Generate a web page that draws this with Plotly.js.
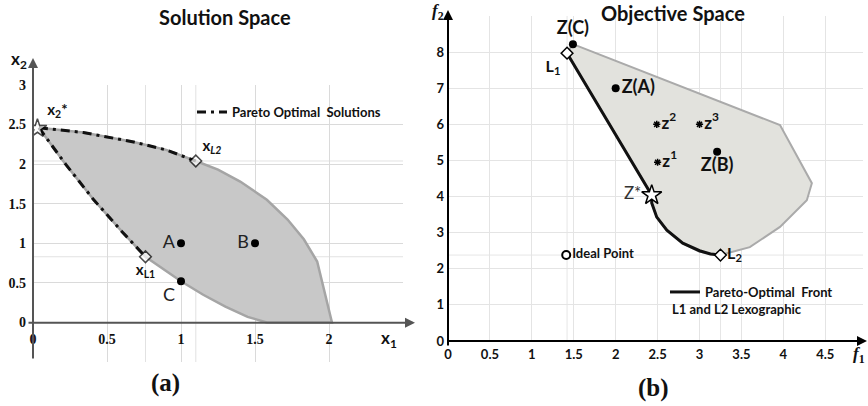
<!DOCTYPE html>
<html><head><meta charset="utf-8">
<script src="https://cdn.plot.ly/plotly-3.0.1.min.js"></script>
<style>html,body{margin:0;padding:0;background:#fff}#chart{width:868px;height:406px}</style>
</head><body><div id="chart"></div>
<script>
// ---------- (a) Solution Space ----------
const solRegionX = [0.04, 0.34, 0.68, 0.90, 1.10, 1.25, 1.40, 1.58, 1.72, 1.83, 1.92, 2.02, 1.58, 1.45, 1.30, 1.15, 1.00, 0.88, 0.76, 0.60, 0.41, 0.22, 0.04];
const solRegionY = [2.46, 2.40, 2.28, 2.18, 2.04, 1.93, 1.78, 1.55, 1.30, 1.05, 0.77, 0.00, 0.00, 0.07, 0.20, 0.35, 0.52, 0.67, 0.83, 1.15, 1.55, 2.00, 2.46];
const paretoUpperX = [0.04, 0.34, 0.68, 0.90, 1.10];
const paretoUpperY = [2.46, 2.40, 2.28, 2.18, 2.04];
const paretoLowerX = [0.04, 0.22, 0.41, 0.60, 0.76];
const paretoLowerY = [2.46, 2.00, 1.55, 1.15, 0.83];
const solPointNames = ['A', 'B', 'C'];
const solPointX = [1.0, 1.5, 1.0];
const solPointY = [1.0, 1.0, 0.52];
const solSpecialNames = ['x<sub>2</sub>*', 'x<sub><i>L2</i></sub>', 'x<sub>L1</sub>'];
const solSpecialX = [0.03, 1.10, 0.76];
const solSpecialY = [2.45, 2.04, 0.83];
const solXTicks = [0, 0.5, 1, 1.5, 2, 2.5];
const solXTickText = ['0', '0.5', '1', '1.5', '2', ' '];
const solYTicks = [-0.5, 0, 0.5, 1, 1.5, 2, 2.5, 3];
const solYTickText = [' ', '0', '0.5', '1', '1.5', '2', '2.5', '3'];

// ---------- (b) Objective Space ----------
const objRegionX = [1.49, 3.96, 4.34, 4.28, 3.96, 3.60, 3.25, 3.00, 2.80, 2.61, 2.49, 2.43, 2.43, 1.42, 1.49];
const objRegionY = [8.22, 5.98, 4.37, 3.90, 3.16, 2.60, 2.38, 2.47, 2.71, 3.07, 3.43, 3.82, 4.04, 7.97, 8.22];
const frontX = [1.42, 2.43, 2.43, 2.49, 2.61, 2.80, 3.00, 3.13, 3.25];
const frontY = [7.97, 4.04, 3.82, 3.43, 3.07, 2.71, 2.50, 2.41, 2.38];
const objPointNames = ['Z(C)', 'Z(A)', 'Z(B)'];
const objPointX = [1.49, 2.00, 3.21];
const objPointY = [8.22, 7.00, 5.24];
const zNames = ['z<sup>1</sup>', 'z<sup>2</sup>', 'z<sup>3</sup>'];
const zX = [2.50, 2.49, 3.00];
const zY = [4.95, 6.00, 6.00];
const lexNames = ['L<sub>1</sub>', 'L<sub>2</sub>'];
const lexX = [1.42, 3.25];
const lexY = [7.97, 2.38];
const zStar = {name: 'Z*', x: 2.43, y: 4.04};
const ideal = {name: 'Ideal Point', x: 1.41, y: 2.38};
const objXTicks = [0, 0.5, 1, 1.5, 2, 2.5, 3, 3.5, 4, 4.5];
const objXTickText = ['0', '0.5', '1', '1.5', '2', '2.5', '3', '3.5', '4', '4.5'];
const objYTicks = [0, 1, 2, 3, 4, 5, 6, 7, 8, 9];
const objYTickText = ['0', '1', '2', '3', '4', '5', '6', '7', '8', ' '];

const SANS = 'Lato, "Open Sans", sans-serif';
const SERIF = '"Liberation Serif", "DejaVu Serif", serif';
const W = 868, H = 406;
const px = v => v / W, py = v => 1 - v / H;

const traces = [
  // (a)
  {x: solRegionX, y: solRegionY, xaxis: 'x', yaxis: 'y', mode: 'lines', fill: 'toself',
   fillcolor: 'rgb(200,200,200)', line: {color: 'rgb(165,165,165)', width: 2.5}, showlegend: false},
  {x: paretoUpperX.concat([null], paretoLowerX), y: paretoUpperY.concat([null], paretoLowerY),
   xaxis: 'x', yaxis: 'y', mode: 'lines', name: 'Pareto Optimal  Solutions', legend: 'legend',
   line: {color: '#111', width: 3, dash: '9px,5px,3px,5px'}},
  {x: solPointX, y: solPointY, text: solPointNames, xaxis: 'x', yaxis: 'y', mode: 'markers+text',
   textposition: ['middle left', 'middle left', 'bottom left'],
   textfont: {family: SANS, size: 18, color: '#222'},
   marker: {color: '#000', size: 8}, showlegend: false},
  {x: solSpecialX, y: solSpecialY, text: solSpecialNames, xaxis: 'x', yaxis: 'y', mode: 'markers+text',
   textposition: ['top right', 'top right', 'bottom center'],
   textfont: {family: SANS, size: 15, color: '#111', weight: 'bold'},
   marker: {symbol: ['star', 'diamond', 'diamond'], color: '#fff', size: [14, 9, 9], line: {color: '#000', width: 1.5}},
   showlegend: false},
  // (b)
  {x: objRegionX, y: objRegionY, xaxis: 'x2', yaxis: 'y2', mode: 'lines', fill: 'toself',
   fillcolor: 'rgb(226,226,221)', line: {color: 'rgb(170,170,170)', width: 2}, showlegend: false},
  {x: frontX, y: frontY, xaxis: 'x2', yaxis: 'y2', mode: 'lines', name: 'Pareto-Optimal  Front', legend: 'legend2',
   line: {color: '#111', width: 3}},
  {x: objPointX, y: objPointY, text: objPointNames, xaxis: 'x2', yaxis: 'y2', mode: 'markers+text',
   textposition: ['top center', 'middle right', 'bottom center'],
   textfont: {family: SANS, size: 18, color: '#111', weight: 'bold'},
   marker: {color: '#000', size: 8}, showlegend: false},
  {x: zX, y: zY, text: zNames, xaxis: 'x2', yaxis: 'y2', mode: 'markers+text',
   textposition: 'middle right', textfont: {family: SANS, size: 17, color: '#111', weight: 'bold'},
   marker: {symbol: 'asterisk-open', color: '#000', size: 6, line: {color: '#000', width: 1.5}}, showlegend: false},
  {x: lexX, y: lexY, text: lexNames, xaxis: 'x2', yaxis: 'y2', mode: 'markers+text',
   textposition: ['bottom left', 'middle right'], textfont: {family: SANS, size: 16, color: '#111', weight: 'bold'},
   marker: {symbol: 'diamond', color: '#fff', size: 9, line: {color: '#000', width: 1.5}}, showlegend: false},
  {x: [zStar.x], y: [zStar.y], text: [zStar.name], xaxis: 'x2', yaxis: 'y2', mode: 'markers+text',
   textposition: 'middle left', textfont: {family: SANS, size: 17, color: '#333'},
   marker: {symbol: 'star', color: '#fff', size: 15, line: {color: '#000', width: 1.5}}, showlegend: false},
  {x: [ideal.x], y: [ideal.y], text: [ideal.name], xaxis: 'x2', yaxis: 'y2', mode: 'markers+text',
   textposition: 'middle right', textfont: {family: SANS, size: 13, color: '#111', weight: 'bold'},
   marker: {symbol: 'circle', color: '#fff', size: 8, line: {color: '#000', width: 2}}, showlegend: false}
];

const gridShapes = [];
[solSpecialX[1], solSpecialX[2]].forEach(v => gridShapes.push({type: 'line', xref: 'x', yref: 'y domain', x0: v, x1: v, y0: 0, y1: 1, line: {color: '#e2e2e2', width: 1}, layer: 'below'}));
[solSpecialY[1], solSpecialY[2]].forEach(v => gridShapes.push({type: 'line', xref: 'x domain', yref: 'y', x0: 0, x1: 1, y0: v, y1: v, line: {color: '#e2e2e2', width: 1}, layer: 'below'}));
lexX.forEach(v => gridShapes.push({type: 'line', xref: 'x2', yref: 'y2 domain', x0: v, x1: v, y0: 0, y1: 1, line: {color: '#e6e6e6', width: 1}, layer: 'below'}));
gridShapes.push({type: 'line', xref: 'x2 domain', yref: 'y2', x0: 0, x1: 1, y0: lexY[1], y1: lexY[1], line: {color: '#e6e6e6', width: 1}, layer: 'below'});

function arrow(x0, y0, x1, y1, color) {
  return {xref: 'paper', yref: 'paper', x: px(x1), y: py(y1), ax: x0 - x1, ay: y0 - y1,
          axref: 'pixel', ayref: 'pixel', text: '', showarrow: true, arrowhead: 2, arrowsize: 1,
          arrowwidth: 2, arrowcolor: color, standoff: 0, startstandoff: 0};
}
function label(text, x, y, font, extra) {
  return Object.assign({xref: 'paper', yref: 'paper', x: px(x), y: py(y), text: text, showarrow: false,
          xanchor: 'center', yanchor: 'middle', font: font}, extra || {});
}

const annotations = [
  arrow(27, 322.7, 415, 322.7, '#555'),
  arrow(33, 360, 33, 58, '#555'),
  arrow(446, 341, 867, 341, '#000'),
  arrow(448, 347, 448, 10, '#000'),
  label('Solution Space', 225, 17, {family: SANS, size: 20, color: '#111', weight: 'bold'}),
  label('Objective Space', 673, 13, {family: SANS, size: 20, color: '#111', weight: 'bold'}),
  label('(a)', 165, 383, {family: SERIF, size: 25, color: '#111', weight: 'bold'}),
  label('(b)', 653, 388, {family: SERIF, size: 25, color: '#111', weight: 'bold'}),
  label('x<sub>2</sub>', 19, 60, {family: SANS, size: 17, color: '#111', weight: 'bold'}),
  label('x<sub>1</sub>', 389, 339, {family: SANS, size: 17, color: '#111', weight: 'bold'}),
  label('<i>f</i><sub>2</sub>', 438, 12, {family: SERIF, size: 17, color: '#111', weight: 'bold'}),
  label('<i>f</i><sub>1</sub>', 859, 355, {family: SERIF, size: 17, color: '#111', weight: 'bold'}),
  label('L1 and L2 Lexographic', 670, 309, {family: SANS, size: 13, color: '#111', weight: 'bold'}, {xanchor: 'left'})
];

const layout = {
  width: W, height: H, margin: {l: 0, r: 0, t: 0, b: 0},
  paper_bgcolor: '#fff', plot_bgcolor: 'rgba(0,0,0,0)', hovermode: false,
  xaxis: {domain: [px(33), px(403)], range: [0, 2.5], tickvals: solXTicks, ticktext: solXTickText,
          anchor: 'free', position: py(322.7), showgrid: true, gridcolor: '#dadada', zeroline: false,
          showline: false, ticks: '', ticklabelstandoff: 6,
          tickfont: {family: SERIF, size: 14, color: '#111', weight: 'bold'}},
  yaxis: {domain: [py(362), py(85)], range: [-0.5, 3], tickvals: solYTicks, ticktext: solYTickText,
          anchor: 'free', position: px(33), showgrid: true, gridcolor: '#dadada', zeroline: false,
          showline: false, ticks: '', ticklabelstandoff: 7,
          tickfont: {family: SERIF, size: 14, color: '#111', weight: 'bold'}},
  xaxis2: {domain: [px(448), px(863)], range: [0, 4.95], tickvals: objXTicks, ticktext: objXTickText,
           anchor: 'y2', showgrid: true, gridcolor: '#e4e4e4', zeroline: false, showline: false,
           ticks: '', ticklabelstandoff: 4,
           tickfont: {family: SANS, size: 13, color: '#111', weight: 'bold'}},
  yaxis2: {domain: [py(341), py(16)], range: [0, 9], tickvals: objYTicks, ticktext: objYTickText,
           anchor: 'x2', showgrid: true, gridcolor: '#e4e4e4', zeroline: false, showline: false,
           ticks: '', ticklabelstandoff: 3,
           tickfont: {family: SANS, size: 13, color: '#111', weight: 'bold'}},
  legend: {x: px(192), y: py(112), xanchor: 'left', yanchor: 'middle', bgcolor: 'rgba(0,0,0,0)',
           font: {family: SANS, size: 13, color: '#111', weight: 'bold'}, borderwidth: 0},
  legend2: {x: px(665), y: py(292), xanchor: 'left', yanchor: 'middle', bgcolor: 'rgba(0,0,0,0)',
            font: {family: SANS, size: 13, color: '#111', weight: 'bold'}, borderwidth: 0},
  shapes: gridShapes,
  annotations: annotations
};

Plotly.newPlot('chart', traces, layout, {staticPlot: true, displayModeBar: false});
</script>
</body></html>
